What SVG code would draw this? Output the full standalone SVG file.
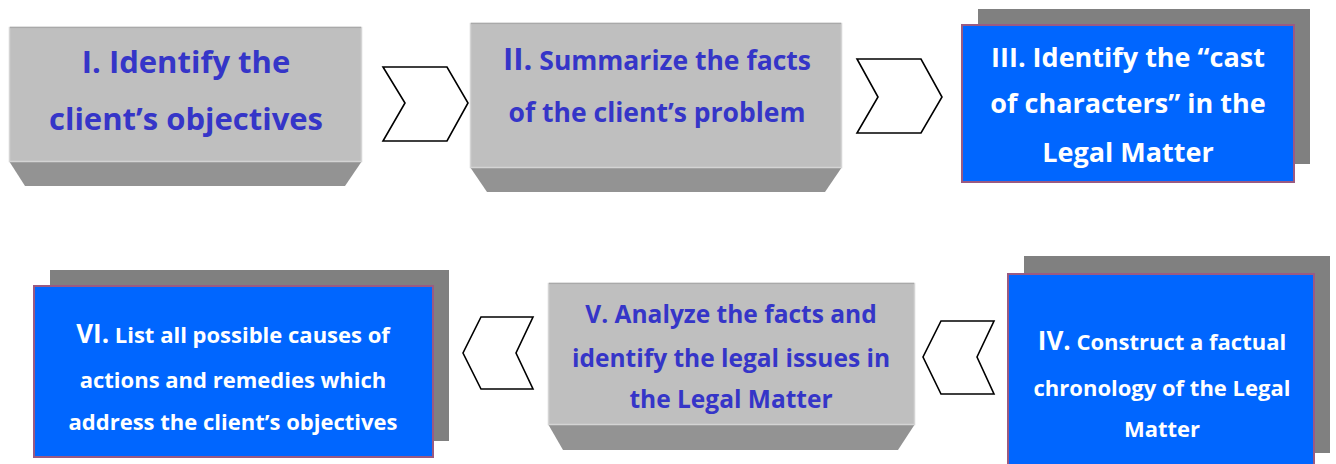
<svg xmlns="http://www.w3.org/2000/svg" width="1336" height="464" viewBox="0 0 1336 464">
  <style>
    text { font-family: "Open Sans", "Lato", "Liberation Sans", sans-serif; font-weight: bold; text-anchor: middle; }
    .dark { fill: #3535c8; }
    .light { fill: #ffffff; }
    .face { fill: #bfbfbf; stroke: #d4d4d4; stroke-width: 1.5; }
    .base { fill: #939393; }
    .shadow { fill: #808080; }
    .blue { fill: #0066ff; stroke: #9a5a82; stroke-width: 2; }
    .chev { fill: #ffffff; stroke: #000000; stroke-width: 1.6; stroke-linejoin: miter; }
  </style>

  <!-- Step I: raised grey block -->
  <g id="step1">
    <polygon class="base" points="9,161 362,161 345,186 25,186"/>
    <rect class="face" x="9.5" y="27.5" width="352" height="134"/>
    <line x1="10" y1="27.5" x2="361" y2="27.5" stroke="#a9a9a9" stroke-width="1.5"/>
    <text class="dark" x="186" y="73" font-size="31">I. Identify the</text>
    <text class="dark" x="186" y="130" font-size="31">client’s objectives</text>
  </g>

  <!-- Step II: raised grey block -->
  <g id="step2">
    <polygon class="base" points="470,167 842,167 825,192 487,192"/>
    <rect class="face" x="470.5" y="23.5" width="371" height="144"/>
    <line x1="471" y1="23.5" x2="841" y2="23.5" stroke="#a9a9a9" stroke-width="1.5"/>
    <text class="dark" x="657" y="70"><tspan font-size="31">II.</tspan><tspan font-size="26.5"> Summarize the facts</tspan></text>
    <text class="dark" x="657" y="122" font-size="26.5">of the client’s problem</text>
  </g>

  <!-- Step III: blue card with offset shadow -->
  <g id="step3">
    <rect class="shadow" x="978" y="9" width="332" height="155"/>
    <rect class="blue" x="962" y="25" width="332" height="157"/>
    <text class="light" x="1128" y="67" font-size="27">III. Identify the “cast</text>
    <text class="light" x="1128" y="113" font-size="27">of characters” in the</text>
    <text class="light" x="1128" y="162" font-size="27">Legal Matter</text>
  </g>

  <!-- Step IV: blue card with offset shadow -->
  <g id="step4">
    <rect class="shadow" x="1024" y="256" width="306" height="197"/>
    <rect class="blue" x="1008" y="274" width="306" height="196"/>
    <text class="light" x="1162" y="350"><tspan font-size="26">IV.</tspan><tspan font-size="22"> Construct a factual</tspan></text>
    <text class="light" x="1162" y="396" font-size="22">chronology of the Legal</text>
    <text class="light" x="1162" y="437" font-size="22">Matter</text>
  </g>

  <!-- Step V: raised grey block -->
  <g id="step5">
    <polygon class="base" points="548,424 915,424 898,450 563,450"/>
    <rect class="face" x="548.5" y="283.5" width="366" height="141"/>
    <line x1="549" y1="283.5" x2="914" y2="283.5" stroke="#a9a9a9" stroke-width="1.5"/>
    <text class="dark" x="731" y="323" font-size="24.5">V. Analyze the facts and</text>
    <text class="dark" x="731" y="367" font-size="24.5">identify the legal issues in</text>
    <text class="dark" x="731" y="408" font-size="24.5">the Legal Matter</text>
  </g>

  <!-- Step VI: blue card with offset shadow -->
  <g id="step6">
    <rect class="shadow" x="50" y="270" width="399" height="171"/>
    <rect class="blue" x="34" y="286" width="399" height="171"/>
    <text class="light" x="233" y="343"><tspan font-size="26">VI.</tspan><tspan font-size="22"> List all possible causes of</tspan></text>
    <text class="light" x="233" y="388" font-size="22">actions and remedies which</text>
    <text class="light" x="233" y="430" font-size="22">address the client’s objectives</text>
  </g>

  <!-- Chevron connectors between steps -->
  <g id="connectors">
    <polygon class="chev" points="383,67 447,67 468,103 447,141 383,141 405,103"/>
    <polygon class="chev" points="857,59 921,59 942,97 921,133 857,133 878,97"/>
    <polygon class="chev" points="994,321 941,321 923,357 941,394 994,394 977,357"/>
    <polygon class="chev" points="533,317 481,317 463,353 481,389 533,389 516,353"/>
  </g>
</svg>
